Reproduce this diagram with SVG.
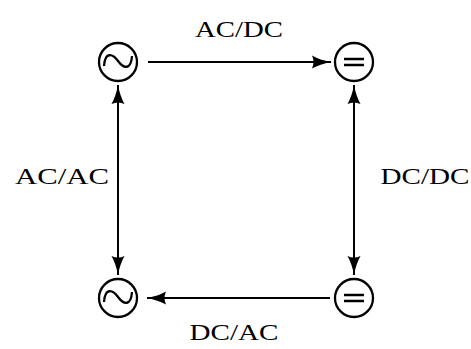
<svg xmlns="http://www.w3.org/2000/svg" width="471" height="349" viewBox="0 0 471 349">
<style>
.node circle{fill:#fff;stroke:#000;stroke-width:2.3}
.sym{fill:none;stroke:#000;stroke-width:2.3;stroke-linecap:butt}
.conn line{stroke:#000;stroke-width:2;fill:none}
.lbl{font-family:"Liberation Serif","DejaVu Serif",serif;font-size:24px;fill:#000;text-anchor:middle}
</style>
<defs>
<marker id="ah" viewBox="0 0 20 14" markerWidth="20" markerHeight="14" refX="19" refY="7" orient="auto-start-reverse" markerUnits="userSpaceOnUse">
<path d="M0,0.5 Q8,5 19,7 Q8,9 0,13.5 Q3,7 0,0.5 Z" fill="#000"/>
</marker>
</defs>
<rect width="471" height="349" fill="#fff"/>
<g class="conn">
<line x1="148" y1="62" x2="331" y2="62" marker-end="url(#ah)"/>
<line x1="330" y1="298" x2="147" y2="298" marker-end="url(#ah)"/>
<line x1="118" y1="85" x2="118" y2="275" marker-start="url(#ah)" marker-end="url(#ah)"/>
<line x1="354" y1="85" x2="354" y2="275" marker-start="url(#ah)" marker-end="url(#ah)"/>
</g>
<g id="ac1" class="node">
<circle cx="118" cy="62" r="19"/>
<path class="sym" d="M104,66 C105,52 112,53 118,61 C124,69 131,70 132,56"/>
</g>
<g id="dc1" class="node">
<circle cx="354" cy="62" r="19"/>
<path class="sym" d="M344,59 H364 M344,65 H364"/>
</g>
<g id="ac2" class="node">
<circle cx="118" cy="298" r="19"/>
<path class="sym" d="M104,302 C105,288 112,289 118,297 C124,305 131,306 132,292"/>
</g>
<g id="dc2" class="node">
<circle cx="354" cy="298" r="19"/>
<path class="sym" d="M344,295 H364 M344,301 H364"/>
</g>
<g id="labels">
<text class="lbl" x="239" y="37" textLength="88" lengthAdjust="spacingAndGlyphs">AC/DC</text>
<text class="lbl" x="62" y="184" textLength="94" lengthAdjust="spacingAndGlyphs">AC/AC</text>
<text class="lbl" x="425" y="184" textLength="89" lengthAdjust="spacingAndGlyphs">DC/DC</text>
<text class="lbl" x="234" y="340" textLength="89" lengthAdjust="spacingAndGlyphs">DC/AC</text>
</g>
</svg>
